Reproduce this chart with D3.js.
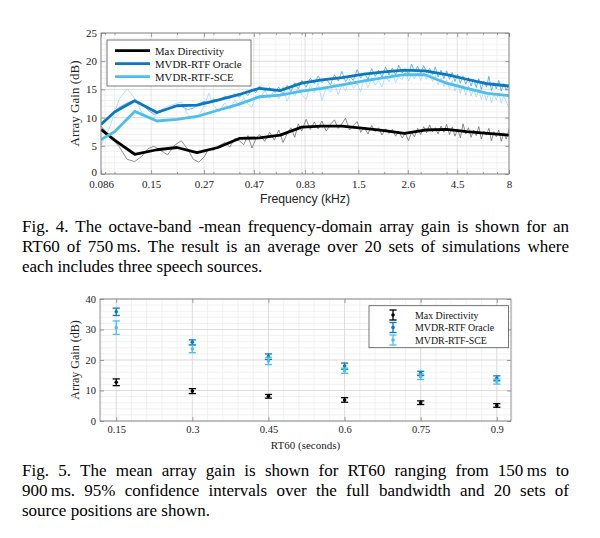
<!DOCTYPE html>
<html>
<head>
<meta charset="utf-8">
<script src="https://cdn.jsdelivr.net/npm/d3@7"></script>
<style>
  body { margin: 0; background: #fff; }
  svg { display: block; }
</style>
</head>
<body>
<svg id="fig" width="600" height="538"></svg>
<script>
// ---- Fig. 4 data: 1/3-octave band means (thick lines) ----
var BAND_FREQ = [0.086, 0.1, 0.125, 0.16, 0.2, 0.25, 0.315, 0.4, 0.5, 0.63, 0.8,
                 1.0, 1.25, 1.6, 2.0, 2.5, 3.15, 4.0, 5.0, 6.3, 8.0];
var MAXDIR_BAND = [7.9, 6.0, 3.5, 4.3, 4.7, 3.8, 4.7, 6.3, 6.4, 6.9, 8.3,
                   8.5, 8.5, 8.1, 7.7, 7.2, 7.8, 7.9, 7.5, 7.2, 6.9];
var ORACLE_BAND = [8.8, 11.0, 13.0, 10.9, 12.1, 12.2, 13.1, 14.1, 15.2, 14.8, 16.1,
                   16.7, 17.1, 17.7, 18.1, 18.4, 18.3, 17.6, 16.8, 16.0, 15.6];
var SCE_BAND = [6.1, 7.5, 11.1, 9.4, 9.7, 10.2, 11.3, 12.4, 13.7, 14.0, 14.7,
                15.2, 15.8, 16.5, 17.1, 17.6, 17.6, 16.1, 15.2, 14.3, 13.9];

// ---- Fig. 4 data: per-bin gains (thin lines) ----
var BIN_FREQ = [
  0.086, 0.095, 0.105, 0.115, 0.125, 0.135, 0.145, 0.155, 0.165, 0.18,
  0.195, 0.21, 0.225, 0.24, 0.255, 0.27, 0.285, 0.3, 0.32, 0.34,
  0.36, 0.38, 0.4, 0.42, 0.44, 0.46, 0.48, 0.5, 0.53, 0.56,
  0.59, 0.62, 0.65, 0.68, 0.71, 0.74, 0.77, 0.8, 0.84, 0.88,
  0.92, 0.96, 1.0, 1.05, 1.1, 1.15, 1.2, 1.25, 1.3, 1.36,
  1.42, 1.48, 1.54, 1.6, 1.67, 1.74, 1.81, 1.88, 1.95, 2.03,
  2.11, 2.19, 2.27, 2.35, 2.44, 2.53, 2.62, 2.71, 2.8, 2.9,
  3.0, 3.1, 3.2, 3.31, 3.42, 3.53, 3.64, 3.76, 3.88, 4.0,
  4.13, 4.26, 4.39, 4.52, 4.66, 4.8, 4.95, 5.1, 5.25, 5.4,
  5.56, 5.72, 5.88, 6.05, 6.22, 6.4, 6.58, 6.76, 6.95, 7.14,
  7.34, 7.54, 7.76, 8.0];
var MAXDIR_BIN = [
  8.5, 6.6, 4.9, 2.6, 2.2, 3.1, 4.5, 4.9, 4.3, 3.4,
  5.1, 5.9, 4.4, 2.6, 2.1, 3.0, 4.5, 4.2, 5.0, 5.6,
  4.8, 6.3, 5.9, 5.2, 6.8, 4.6, 6.2, 7.0, 5.8, 7.4,
  6.0, 7.8, 5.6, 7.2, 8.2, 6.5, 8.9, 7.6, 9.7, 7.9,
  9.2, 8.0, 9.4, 7.6, 8.8, 9.6, 8.1, 8.9, 9.9, 7.8,
  8.6, 9.3, 7.4, 8.3, 7.1, 8.6, 7.5, 8.2, 6.9, 8.0,
  7.2, 7.9, 6.7, 7.6, 6.4, 7.2, 5.9, 7.4, 6.6, 8.1,
  7.0, 8.4, 7.3, 8.7, 7.5, 8.2, 7.1, 8.5, 7.4, 8.8,
  7.0, 8.3, 6.7, 8.0, 6.4, 8.9, 7.1, 8.2, 6.5, 7.8,
  6.8, 8.4, 6.2, 7.6, 6.9, 8.1, 5.9, 7.5, 6.6, 7.8,
  5.8, 7.3, 6.2, 7.9];
var ORACLE_BIN = [
  8.6, 10.4, 11.8, 12.6, 13.1, 12.5, 11.3, 10.6, 10.9, 11.6,
  12.2, 12.0, 11.4, 11.7, 12.4, 12.9, 12.5, 13.3, 13.0, 13.8,
  13.4, 14.2, 13.6, 14.6, 13.9, 15.1, 14.4, 15.6, 14.7, 15.3,
  14.5, 15.4, 14.2, 15.7, 14.6, 16.2, 15.1, 16.6, 15.4, 17.0,
  16.0, 17.4, 16.2, 16.9, 15.8, 17.6, 16.5, 18.2, 16.4, 17.3,
  16.6, 18.5, 17.0, 17.9, 16.8, 18.7, 17.3, 18.4, 17.2, 19.0,
  17.6, 18.8, 17.5, 19.3, 17.9, 18.6, 17.7, 19.5, 18.1, 19.1,
  17.8, 19.2, 18.0, 18.7, 17.6, 19.0, 17.2, 18.4, 16.9, 18.3,
  16.8, 18.0, 16.4, 17.7, 16.1, 17.4, 15.9, 17.1, 15.6, 16.8,
  15.3, 16.9, 15.0, 16.5, 15.4, 17.3, 14.8, 16.2, 15.1, 16.6,
  14.7, 16.0, 14.9, 15.8];
var SCE_BIN = [
  5.1, 8.4, 13.2, 15.1, 13.4, 11.0, 10.1, 10.0, 11.2, 12.0,
  12.4, 12.8, 10.6, 9.7, 10.4, 12.0, 14.3, 12.2, 11.0, 12.6,
  11.4, 13.1, 12.0, 13.6, 12.4, 11.8, 13.9, 13.2, 14.8, 13.4,
  14.9, 13.3, 15.5, 12.9, 14.6, 13.8, 15.4, 14.0, 13.2, 15.8,
  14.4, 16.2, 13.0, 15.3, 14.5, 16.1, 14.0, 15.9, 14.7, 16.8,
  15.2, 16.0, 14.6, 16.9, 15.3, 17.1, 15.8, 16.6, 15.4, 17.5,
  16.3, 17.8, 16.2, 17.3, 16.7, 18.2, 16.5, 17.6, 16.9, 18.0,
  16.6, 17.9, 16.8, 18.3, 16.4, 17.5, 15.8, 17.0, 15.5, 16.7,
  15.1, 16.6, 14.7, 16.2, 14.3, 15.8, 14.0, 15.6, 13.8, 15.1,
  13.6, 15.0, 13.2, 14.7, 13.0, 14.5, 12.6, 14.2, 13.1, 14.4,
  12.5, 13.9, 12.8, 11.8];

var FREQ_TICKS = [0.086, 0.15, 0.27, 0.47, 0.83, 1.5, 2.6, 4.5, 8];
var FREQ_TICK_LABELS = ['0.086', '0.15', '0.27', '0.47', '0.83', '1.5', '2.6', '4.5', '8'];
var GAIN_TICKS_4 = [0, 5, 10, 15, 20, 25];

// ---- Fig. 5 data: mean gain and 95% CI half-width per RT60 ----
var RT60 = [0.15, 0.3, 0.45, 0.6, 0.75, 0.9];
var RT60_LABELS = ['0.15', '0.3', '0.45', '0.6', '0.75', '0.9'];
var MAXDIR_MEAN = [12.7, 9.8, 8.1, 6.9, 6.0, 5.1];
var MAXDIR_CI = [1.1, 0.8, 0.6, 0.75, 0.6, 0.6];
var ORACLE_MEAN = [35.8, 25.8, 21.1, 18.0, 15.6, 14.0];
var ORACLE_CI = [1.2, 0.8, 0.9, 1.0, 0.7, 0.8];
var SCE_MEAN = [30.6, 23.6, 19.7, 16.5, 14.5, 12.9];
var SCE_CI = [2.2, 1.2, 1.2, 0.85, 0.9, 0.8];
var GAIN_TICKS_5 = [0, 10, 20, 30, 40];

var SERIES_NAMES = ['Max Directivity', 'MVDR-RTF Oracle', 'MVDR-RTF-SCE'];

var CAPTION_4 = [
  'Fig. 4. The octave-band -mean frequency-domain array gain is shown for an',
  'RT60 of 750\u2009ms. The result is an average over 20 sets of simulations where',
  'each includes three speech sources.'];
var CAPTION_5 = [
  'Fig. 5. The mean array gain is shown for RT60 ranging from 150\u2009ms to',
  '900\u2009ms. 95% confidence intervals over the full bandwidth and 20 sets of',
  'source positions are shown.'];

// ---- styles ----
var SERIF = "'Liberation Serif', 'DejaVu Serif', serif";
var SANS = "'Liberation Sans', Arial, sans-serif";
var THICK = ['#000000', '#0a78c2', '#4dbeee'];
var THIN = ['#6b6b6b', '#3f9fdc', '#9dd8f5'];
var GRID_MAJOR = '#d6d6d6';
var GRID_MINOR = '#ebebeb';
var AXIS_COL = '#7a7a7a';

var svg = d3.select('#fig');
svg.append('rect').attr('width', 600).attr('height', 538).attr('fill', '#fff');

function styleAxis(g, size, family) {
  g.select('.domain').remove();
  g.selectAll('.tick line').attr('stroke', AXIS_COL).attr('stroke-width', 0.7);
  g.selectAll('.tick text').attr('fill', '#222');
  g.attr('font-family', family).attr('font-size', size);
}

// =============== Fig. 4 ===============
var L1 = 101, R1 = 509, T1 = 33, B1 = 174;
var x1 = d3.scaleLog().domain([0.086, 8]).range([L1, R1]);
var y1 = d3.scaleLinear().domain([0, 25]).range([B1, T1]);

var g4 = svg.append('g');
// grid
g4.selectAll('.vminor').data(x1.ticks()).enter().append('line')
  .attr('x1', d => x1(d)).attr('x2', d => x1(d)).attr('y1', T1).attr('y2', B1)
  .attr('stroke', GRID_MINOR).attr('stroke-width', 0.7);
g4.selectAll('.hminor').data(y1.ticks(25)).enter().append('line')
  .attr('x1', L1).attr('x2', R1).attr('y1', d => y1(d)).attr('y2', d => y1(d))
  .attr('stroke', GRID_MINOR).attr('stroke-width', 0.7);
g4.selectAll('.vmajor').data(FREQ_TICKS).enter().append('line')
  .attr('x1', d => x1(d)).attr('x2', d => x1(d)).attr('y1', T1).attr('y2', B1)
  .attr('stroke', GRID_MAJOR).attr('stroke-width', 0.7);
g4.selectAll('.hmajor').data(GAIN_TICKS_4).enter().append('line')
  .attr('x1', L1).attr('x2', R1).attr('y1', d => y1(d)).attr('y2', d => y1(d))
  .attr('stroke', GRID_MAJOR).attr('stroke-width', 0.7);

svg.append('clipPath').attr('id', 'clip4').append('rect')
  .attr('x', L1).attr('y', T1).attr('width', R1 - L1).attr('height', B1 - T1);

var line4 = d3.line().x(d => x1(d[0])).y(d => y1(d[1]));
var lines = g4.append('g').attr('clip-path', 'url(#clip4)');
[MAXDIR_BIN, ORACLE_BIN, SCE_BIN].forEach(function (vals, i) {
  lines.append('path').datum(d3.zip(BIN_FREQ, vals))
    .attr('d', line4).attr('fill', 'none')
    .attr('stroke', THIN[i]).attr('stroke-width', 0.9).attr('stroke-opacity', 0.85);
});
[MAXDIR_BAND, ORACLE_BAND, SCE_BAND].forEach(function (vals, i) {
  lines.append('path').datum(d3.zip(BAND_FREQ, vals))
    .attr('d', line4).attr('fill', 'none')
    .attr('stroke', THICK[i]).attr('stroke-width', 2.8).attr('stroke-linejoin', 'round');
});

// axes
g4.append('g').attr('transform', 'translate(0,' + B1 + ')')
  .call(d3.axisBottom(x1).tickValues(x1.ticks()).tickFormat('').tickSizeInner(-2).tickSizeOuter(0))
  .call(g => styleAxis(g, 11, SERIF));
g4.append('g').attr('transform', 'translate(0,' + T1 + ')')
  .call(d3.axisTop(x1).tickValues(x1.ticks()).tickFormat('').tickSizeInner(-2).tickSizeOuter(0))
  .call(g => styleAxis(g, 11, SERIF));
g4.append('g').attr('transform', 'translate(0,' + B1 + ')')
  .call(d3.axisBottom(x1).tickValues(FREQ_TICKS).tickFormat((d, i) => FREQ_TICK_LABELS[i])
    .tickSizeInner(-4).tickSizeOuter(0).tickPadding(6))
  .call(g => styleAxis(g, 11, SERIF));
g4.append('g').attr('transform', 'translate(0,' + T1 + ')')
  .call(d3.axisTop(x1).tickValues(FREQ_TICKS).tickFormat('').tickSizeInner(-4).tickSizeOuter(0))
  .call(g => styleAxis(g, 11, SERIF));
g4.append('g').attr('transform', 'translate(' + L1 + ',0)')
  .call(d3.axisLeft(y1).tickValues(GAIN_TICKS_4).tickSizeInner(-4).tickSizeOuter(0).tickPadding(4))
  .call(g => styleAxis(g, 11, SERIF))
  // the zero label sits right above the first frequency label
  .call(g => g.selectAll('.tick text').filter(d => d === 0).attr('dy', '0.1em'));
g4.append('g').attr('transform', 'translate(' + R1 + ',0)')
  .call(d3.axisRight(y1).tickValues(GAIN_TICKS_4).tickFormat('').tickSizeInner(-4).tickSizeOuter(0))
  .call(g => styleAxis(g, 11, SERIF));
g4.append('rect').attr('x', L1).attr('y', T1).attr('width', R1 - L1).attr('height', B1 - T1)
  .attr('fill', 'none').attr('stroke', AXIS_COL).attr('stroke-width', 0.8);

g4.append('text').attr('x', (L1 + R1) / 2).attr('y', 202.5).attr('text-anchor', 'middle')
  .attr('font-family', SANS).attr('font-size', 12.2).attr('fill', '#222').text('Frequency (kHz)');
g4.append('text').attr('transform', 'translate(79,' + ((T1 + B1) / 2) + ')rotate(-90)')
  .attr('text-anchor', 'middle').attr('font-family', SERIF).attr('font-size', 13)
  .attr('fill', '#222').text('Array Gain (dB)');

// legend
var leg4 = g4.append('g');
leg4.append('rect').attr('x', 107).attr('y', 40).attr('width', 144).attr('height', 46)
  .attr('fill', '#fff').attr('stroke', '#555').attr('stroke-width', 0.8);
SERIES_NAMES.forEach(function (name, i) {
  var yy = 50.7 + i * 13;
  leg4.append('line').attr('x1', 115).attr('x2', 150).attr('y1', yy).attr('y2', yy)
    .attr('stroke', THICK[i]).attr('stroke-width', 2.8);
  leg4.append('text').attr('x', 155).attr('y', yy + 3.8)
    .attr('font-family', SERIF).attr('font-size', 10.8).attr('fill', '#111').text(name);
});

// =============== Fig. 5 ===============
var L2 = 100, R2 = 511, T2 = 299, B2 = 421;
var x2 = d3.scaleLinear().domain([0.118, 0.928]).range([L2, R2]);
var y2 = d3.scaleLinear().domain([0, 40]).range([B2, T2]);
var g5 = svg.append('g');

g5.selectAll('.vminor').data(d3.range(0.12, 0.93, 0.03)).enter().append('line')
  .attr('x1', d => x2(d)).attr('x2', d => x2(d)).attr('y1', T2).attr('y2', B2)
  .attr('stroke', GRID_MINOR).attr('stroke-width', 0.7);
g5.selectAll('.hminor').data(y2.ticks(20)).enter().append('line')
  .attr('x1', L2).attr('x2', R2).attr('y1', d => y2(d)).attr('y2', d => y2(d))
  .attr('stroke', GRID_MINOR).attr('stroke-width', 0.7);
g5.selectAll('.vmajor').data(RT60).enter().append('line')
  .attr('x1', d => x2(d)).attr('x2', d => x2(d)).attr('y1', T2).attr('y2', B2)
  .attr('stroke', GRID_MAJOR).attr('stroke-width', 0.7);
g5.selectAll('.hmajor').data(GAIN_TICKS_5).enter().append('line')
  .attr('x1', L2).attr('x2', R2).attr('y1', d => y2(d)).attr('y2', d => y2(d))
  .attr('stroke', GRID_MAJOR).attr('stroke-width', 0.7);

function errorBar(g, cx, cy, top, bot, col) {
  g.append('line').attr('x1', cx).attr('x2', cx).attr('y1', top).attr('y2', bot)
    .attr('stroke', col).attr('stroke-width', 1.3);
  [top, bot].forEach(function (yy) {
    g.append('line').attr('x1', cx - 3.6).attr('x2', cx + 3.6).attr('y1', yy).attr('y2', yy)
      .attr('stroke', col).attr('stroke-width', 1.3);
  });
  g.append('circle').attr('cx', cx).attr('cy', cy).attr('r', 1.8).attr('fill', col);
}

[[MAXDIR_MEAN, MAXDIR_CI], [ORACLE_MEAN, ORACLE_CI], [SCE_MEAN, SCE_CI]].forEach(function (s, i) {
  RT60.forEach(function (rt, j) {
    errorBar(g5, x2(rt), y2(s[0][j]), y2(s[0][j] + s[1][j]), y2(s[0][j] - s[1][j]), THICK[i]);
  });
});

g5.append('g').attr('transform', 'translate(0,' + B2 + ')')
  .call(d3.axisBottom(x2).tickValues(RT60).tickFormat((d, i) => RT60_LABELS[i])
    .tickSizeInner(-4).tickSizeOuter(0).tickPadding(5))
  .call(g => styleAxis(g, 10.5, SERIF));
g5.append('g').attr('transform', 'translate(0,' + T2 + ')')
  .call(d3.axisTop(x2).tickValues(RT60).tickFormat('').tickSizeInner(-4).tickSizeOuter(0))
  .call(g => styleAxis(g, 10.5, SERIF));
g5.append('g').attr('transform', 'translate(' + L2 + ',0)')
  .call(d3.axisLeft(y2).tickValues(GAIN_TICKS_5).tickSizeInner(-4).tickSizeOuter(0).tickPadding(4))
  .call(g => styleAxis(g, 10.5, SERIF));
g5.append('g').attr('transform', 'translate(' + R2 + ',0)')
  .call(d3.axisRight(y2).tickValues(GAIN_TICKS_5).tickFormat('').tickSizeInner(-4).tickSizeOuter(0))
  .call(g => styleAxis(g, 10.5, SERIF));
g5.append('rect').attr('x', L2).attr('y', T2).attr('width', R2 - L2).attr('height', B2 - T2)
  .attr('fill', 'none').attr('stroke', AXIS_COL).attr('stroke-width', 0.8);

g5.append('text').attr('x', (L2 + R2) / 2).attr('y', 448.5).attr('text-anchor', 'middle')
  .attr('font-family', SERIF).attr('font-size', 11).attr('fill', '#222').text('RT60 (seconds)');
g5.append('text').attr('transform', 'translate(79,' + ((T2 + B2) / 2) + ')rotate(-90)')
  .attr('text-anchor', 'middle').attr('font-family', SERIF).attr('font-size', 12)
  .attr('fill', '#222').text('Array Gain (dB)');

var leg5 = g5.append('g');
leg5.append('rect').attr('x', 369).attr('y', 305.7).attr('width', 139.5).attr('height', 42)
  .attr('fill', '#fff').attr('stroke', '#555').attr('stroke-width', 0.8);
SERIES_NAMES.forEach(function (name, i) {
  var yy = 315 + i * 12.5;
  errorBar(leg5, 393, yy, yy - 5, yy + 5, THICK[i]);
  leg5.append('text').attr('x', 415).attr('y', yy + 3.5)
    .attr('font-family', SERIF).attr('font-size', 9.9).attr('fill', '#111').text(name);
});

// =============== captions (justified) ===============
var CAP_SIZE = 17;
function caption(lines, x0, xEnd, y0, lh) {
  lines.forEach(function (line, i) {
    var words = line.split(' ');
    var t = svg.append('text').attr('y', y0 + i * lh)
      .attr('font-family', SERIF).attr('font-size', CAP_SIZE).attr('fill', '#000');
    var spans = words.map(w => t.append('tspan').text(w));
    var widths = spans.map(s => s.node().getComputedTextLength());
    var last = i === lines.length - 1;
    var gap = last ? CAP_SIZE * 0.25 : (xEnd - x0 - d3.sum(widths)) / (words.length - 1);
    var x = x0;
    spans.forEach(function (s, j) { s.attr('x', x); x += widths[j] + gap; });
  });
}
caption(CAPTION_4, 22, 569, 231.7, 20);
caption(CAPTION_5, 22, 569, 476, 20);
</script>
</body>
</html>
